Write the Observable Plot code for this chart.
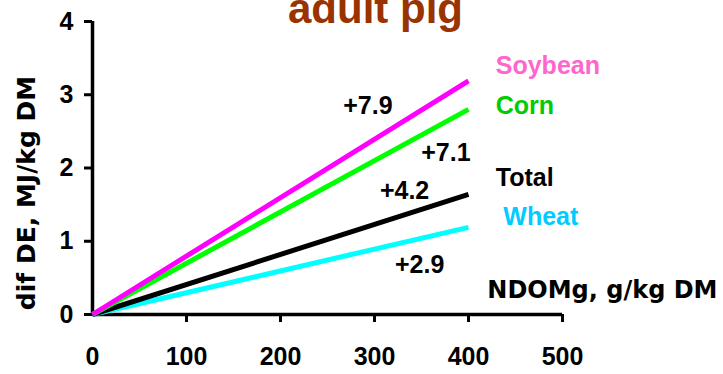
<!DOCTYPE html>
<html>
<head>
<meta charset="utf-8">
<script src="https://cdn.jsdelivr.net/npm/d3@7"></script>
<script src="https://cdn.jsdelivr.net/npm/@observablehq/plot@0.6"></script>
<style>
  html, body { margin: 0; padding: 0; background: #fff; }
  #chart svg { display: block; }
</style>
</head>
<body>
<div id="chart"></div>
<script>
// ---- data ----
const title = "adult pig";
const xLabel = "NDOMg, g/kg DM";
const yLabel = "dif DE, MJ/kg DM";
const xTicks = [0, 100, 200, 300, 400, 500];
const xTickMarks = [100, 200, 300, 400, 500];
const yTicks = [0, 1, 2, 3, 4];

const seriesNames = ["Wheat", "Total", "Corn", "Soybean"];
const startX = [0, 0, 0, 0];
const startY = [0, 0, 0, 0];
const endX = [400, 400, 400, 400];
const endY = [1.19, 1.64, 2.80, 3.19];
const lineColors = ["#00ffff", "#000000", "#00ff00", "#ff00ff"];
const labelColors = ["#00ccff", "#000000", "#00cc00", "#ff66cc"];
const labelX = [437, 429, 429, 429];
const labelY = [1.22, 1.76, 2.74, 3.29];

const slopeText = ["+2.9", "+4.2", "+7.1", "+7.9"];
const slopeX = [348, 332, 376, 293];
const slopeY = [0.57, 1.57, 2.10, 2.74];

const xLabelPos = {x: 420, y: 0.22};

// ---- build tables ----
const lines = seriesNames.flatMap((s, i) => [
  {series: s, x: startX[i], y: startY[i]},
  {series: s, x: endX[i], y: endY[i]}
]);
const labels = seriesNames.map((s, i) => ({text: s, x: labelX[i], y: labelY[i], color: labelColors[i]}));
const slopes = slopeText.map((t, i) => ({text: t, x: slopeX[i], y: slopeY[i]}));

const font = "'Liberation Sans', Arial, sans-serif";
const font2 = "'DejaVu Sans', Verdana, sans-serif";

const chart = Plot.plot({
  width: 723,
  height: 374,
  marginLeft: 92,
  marginRight: 161,
  marginTop: 21,
  marginBottom: 60,
  style: {fontFamily: font, fontWeight: "bold", background: "#fff", overflow: "visible"},
  x: {domain: [0, 500]},
  y: {domain: [0, 4]},
  marks: [
    // axes
    Plot.axisY(yTicks, {tickSize: 8, tickPadding: 11, strokeWidth: 3, fontSize: 25, fontWeight: "bold", tickFormat: d3.format("d"), label: null}),
    Plot.axisX(xTickMarks, {tickSize: 8, strokeWidth: 3, tickFormat: () => "", label: null}),
    Plot.axisX(xTicks, {tickSize: 0, tickPadding: 33, fontSize: 25, fontWeight: "bold", tickFormat: d3.format("d"), label: null}),
    Plot.ruleX([0], {strokeWidth: 3.5}),
    Plot.ruleY([0], {strokeWidth: 3.5}),
    // series lines
    ...seriesNames.map((s, i) =>
      Plot.line(lines.filter(d => d.series === s), {x: "x", y: "y", stroke: lineColors[i], strokeWidth: 5, strokeLinecap: "butt"})
    ),
    // series labels
    Plot.text(labels, {x: "x", y: "y", text: "text", fill: "color", textAnchor: "start", lineAnchor: "bottom", fontSize: 25, fontWeight: "bold"}),
    // slope annotations
    Plot.text(slopes, {x: "x", y: "y", text: "text", fill: "#000", textAnchor: "middle", lineAnchor: "bottom", fontSize: 25, fontWeight: "bold"}),
    // x axis title
    Plot.text([xLabel], {x: xLabelPos.x, y: xLabelPos.y, text: d => d, textAnchor: "start", lineAnchor: "bottom", fontSize: 24, fontWeight: "bold", fontFamily: font2}),
    // y axis title
    Plot.text([yLabel], {frameAnchor: "left", text: d => d, rotate: -90, textAnchor: "middle", lineAnchor: "bottom", dx: -58, dy: 25, fontSize: 25, fontWeight: "bold", fontFamily: font2}),
    // title (cropped at top like the reference)
    Plot.text([title], {frameAnchor: "top", text: d => d, lineAnchor: "bottom", dx: 48, dy: 1, fontSize: 42, fontWeight: "bold", fill: "#993300"})
  ]
});
document.getElementById("chart").appendChild(chart);
</script>
</body>
</html>
